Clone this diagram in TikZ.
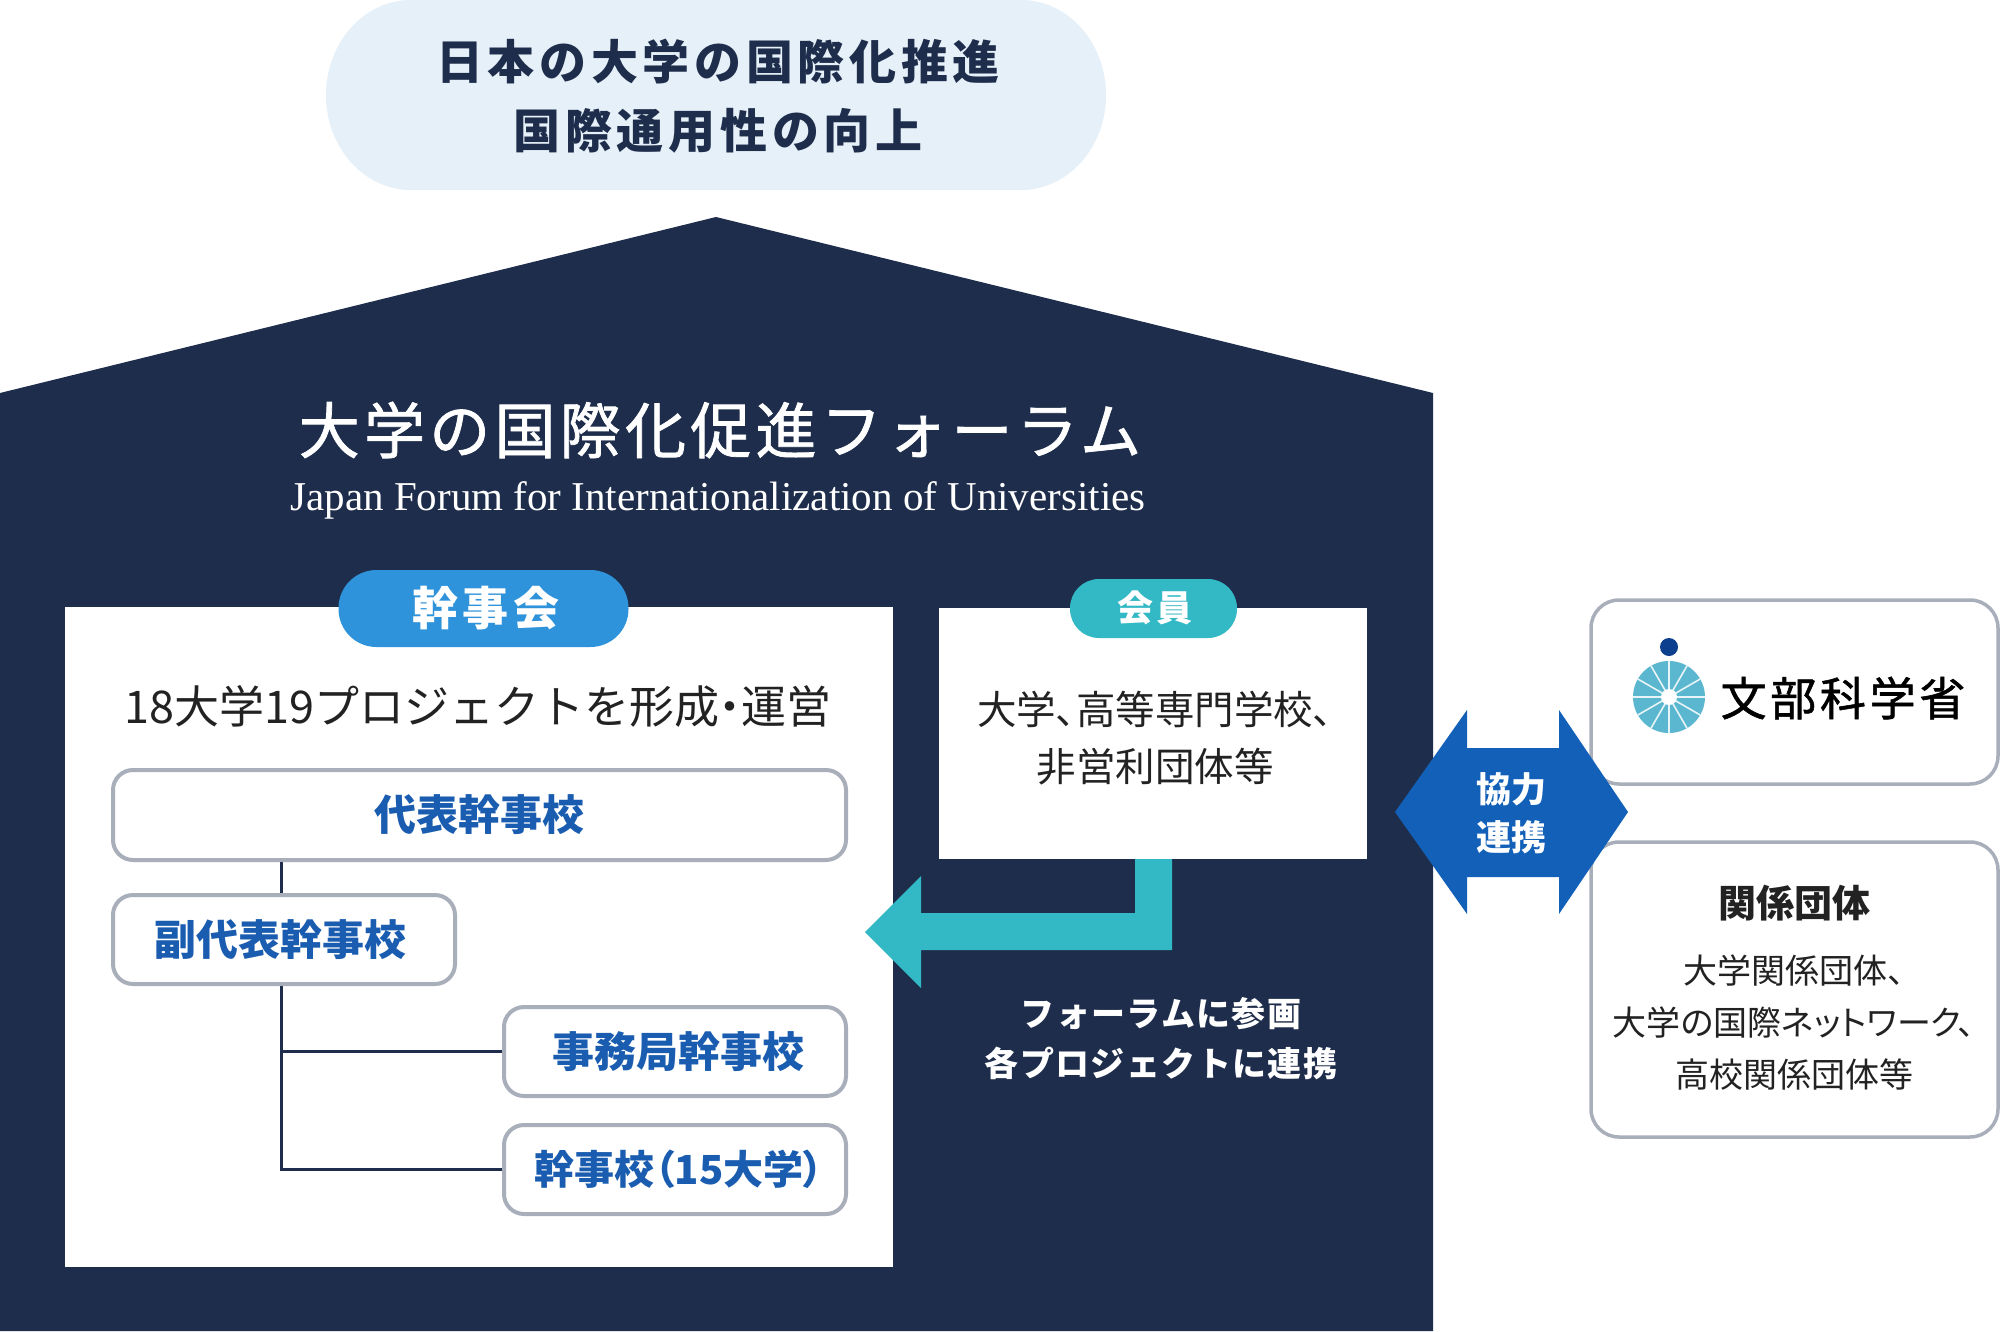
\documentclass[tikz,border=0pt]{standalone}
\usepackage{fontspec}
\setmainfont{Noto Sans CJK JP}
\newfontfamily\jp{Noto Sans CJK JP}[RawFeature=+palt]
\newfontfamily\jpn{Noto Sans CJK JP}
\newfontfamily\jpmed{Noto Sans CJK JP}[FakeBold=1.2]
\newfontfamily\enserif{Liberation Serif}
\definecolor{navy}{HTML}{1E2D4B}
\definecolor{pale}{HTML}{E6F0F8}
\definecolor{kblue}{HTML}{2E93DA}
\definecolor{teal}{HTML}{33B8C5}
\definecolor{arrowblue}{HTML}{1260B8}
\definecolor{lblue}{HTML}{1A5DB0}
\definecolor{boxgray}{HTML}{A9AFBA}
\definecolor{txt}{HTML}{222222}
\definecolor{logoteal}{HTML}{5BB7CF}
\definecolor{logodot}{HTML}{0D3F8F}
\tikzset{
  graybox/.style={draw=boxgray, line width=4pt, fill=white, rounded corners=20pt, inner sep=0pt},
  sidebox/.style={draw=boxgray, line width=3.5pt, fill=white, rounded corners=28pt, inner sep=0pt},
  whitebox/.style={fill=white, inner sep=0pt},
  pilltag/.style={inner sep=0pt, text=white},
  boxlabel/.style={text=lblue, font=\jp\bfseries\fontsize{42}{50}\selectfont},
  treeline/.style={draw=navy, line width=3pt},
}
\begin{document}
\begin{tikzpicture}[x=1pt,y=-1pt]
\useasboundingbox (0,0) rectangle (2000,1331);
\fill[white] (0,0) rectangle (2000,1331);
% top pill
\fill[pale] (411,0) -- (1021,0) arc[start angle=-90, end angle=90, x radius=85, y radius=95]
  -- (411,190) arc[start angle=90, end angle=270, x radius=85, y radius=95] -- cycle;
\node[text=navy, font=\jpn\bfseries\addfontfeature{LetterSpace=10}\fontsize{47}{55}\selectfont] (goal1) at (718,62) {日本の大学の国際化推進};
\node[text=navy, font=\jpn\bfseries\addfontfeature{LetterSpace=10}\fontsize{47}{55}\selectfont] (goal2) at (718,131) {国際通用性の向上};
% house
\fill[navy] (0,393) -- (716,217) -- (1433,393) -- (1433,1331) -- (0,1331) -- cycle;
\node[text=white, font=\jpmed\addfontfeature{LetterSpace=7}\fontsize{61}{70}\selectfont] (title) at (720,430) {大学の国際化促進フォーラム};
\node[text=white, font=\enserif\fontsize{41}{48}\selectfont] (subtitle) at (718,500) {Japan Forum for Internationalization of Universities};
% left box
\node[whitebox, minimum width=828pt, minimum height=660pt] (leftbox) at (479,937) {};
\node[pilltag, fill=kblue, minimum width=290pt, minimum height=77pt, rounded corners=38pt] (kanjikai) at (483.5,608.5) {};
\node[text=white, font=\jpn\bfseries\addfontfeature{LetterSpace=10}\fontsize{46}{52}\selectfont] (kanjikaitext) at (486,608) {幹事会};
\node[text=txt, font=\jpn\fontsize{45}{50}\selectfont] (lead) at (478,706) {18大学19プロジェクトを形成{\addfontfeature{RawFeature=+palt}・}運営};
\node[graybox, minimum width=733pt, minimum height=90pt] (daihyo) at (479.5,815) {};
\node[boxlabel] at (daihyo) {代表幹事校};
\node[graybox, minimum width=342pt, minimum height=89pt] (fuku) at (284,939.5) {};
\node[boxlabel] at (280,939.5) {副代表幹事校};
\node[graybox, minimum width=342pt, minimum height=89pt] (jimu) at (675,1051.5) {};
\node[boxlabel] at (678,1051.5) {事務局幹事校};
\node[graybox, minimum width=342pt, minimum height=89pt] (kanjiko) at (675,1169.5) {};
\node[boxlabel, font=\jp\bfseries\fontsize{40}{50}\selectfont] at (679,1169.5) {幹事校（15大学）};
\coordinate (trunktop) at ([xshift=-3pt]fuku.north);
\coordinate (trunk) at ([xshift=-3pt]fuku.south);
\draw[treeline] (trunktop) -- (trunktop |- daihyo.south);
\draw[treeline] (trunk) |- (kanjiko.west);
\draw[treeline] (trunk |- jimu.west) -- (jimu.west);
% member box
\node[whitebox, minimum width=428pt, minimum height=251pt] (member) at (1153,733.5) {};
\node[pilltag, fill=teal, minimum width=167pt, minimum height=59pt, rounded corners=29pt] (membertag) at (1153.5,608.5) {};
\node[text=white, font=\jpn\bfseries\addfontfeature{LetterSpace=6}\fontsize{36}{44}\selectfont] (membertext) at (1155,608) {会員};
\node[text=txt, align=center, font=\jp\fontsize{39.5}{57}\selectfont] (memberlist) at (1155,738.5) {大学、高等専門学校、\\非営利団体等};
% teal arrow
\fill[teal] (1135,859) -- (1172,859) -- (1172,950) -- (921,950) -- (921,988) -- (865,932)
  -- (921,876) -- (921,913) -- (1135,913) -- cycle;
\node[text=white, align=center, font=\jpn\bfseries\addfontfeature{LetterSpace=4}\fontsize{34}{50}\selectfont] (forum) at (1161,1039) {フォーラムに参画\\各プロジェクトに連携};
% right boxes
\node[sidebox, minimum width=407pt, minimum height=184pt] (mext) at (1794.5,692) {};
\fill[logoteal] (1669,697) circle[radius=36];
\foreach \a in {0,30,...,330} \draw[white!85!logoteal, line width=1.6pt] (1669,697) -- ++(\a:36);
\fill[white] (1669,697) circle[radius=8];
\fill[logodot] (1669,647) circle[radius=9];
\node[text=black, font=\jpmed\addfontfeature{LetterSpace=8}\fontsize{46}{54}\selectfont] (mexttext) at (1843,698) {文部科学省};
\node[sidebox, minimum width=407pt, minimum height=295pt] (rel) at (1794.5,989.5) {};
\node[text=txt, font=\jpn\bfseries\fontsize{38}{44}\selectfont] (reltitle) at (1794,903) {関係団体};
\node[text=txt, align=center, font=\jp\fontsize{34}{52}\selectfont] (rellist) at (1794,1023) {大学関係団体、\\大学の国際ネットワーク、\\高校関係団体等};
% double arrow
\fill[arrowblue] (1395,812) -- (1467,710) -- (1467,748) -- (1559,748) -- (1559,710) -- (1628,812)
  -- (1559,914) -- (1559,877) -- (1467,877) -- (1467,914) -- cycle;
\node[text=white, align=center, font=\jpn\bfseries\fontsize{35}{48}\selectfont] (kyoryoku) at (1511,813) {協力\\連携};
\end{tikzpicture}
\end{document}
